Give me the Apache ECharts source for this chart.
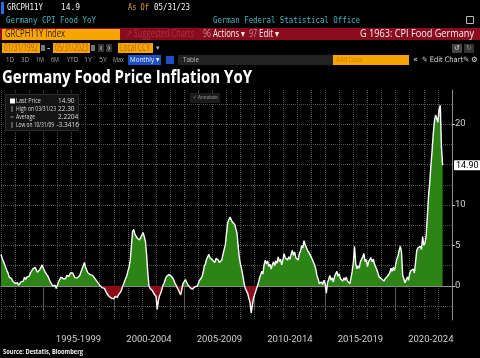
<!DOCTYPE html>
<html><head><meta charset="utf-8">
<script src="https://cdn.jsdelivr.net/npm/echarts@6/dist/echarts.min.js"></script>
<style>html,body{margin:0;padding:0;background:#000}#c{width:480px;height:358px}</style>
</head><body><div id="c"></div>
<script>
// ---- Data: Germany CPI Food YoY (%), monthly from 1992-01 ----
const startYear = 1992;
const endCategory = '2024-01';
const v1992 = [3.9, 3.4, 3.3, 2.7, 2.6, 1.9, 1.6, 1.1, 1.3, 0.9, 0.6, 0.4];
const v1993 = [0.3, 0.2, 0.4, 0.1, 0.3, 0.5, 0.7, 0.6, 1.1, 0.8, 1.1, 1.3];
const v1994 = [1.2, 1.6, 1.5, 2.1, 1.9, 2.3, 2.0, 1.7, 1.6, 2.0, 2.2, 2.6];
const v1995 = [2.2, 2.1, 1.6, 1.6, 1.2, 1.0, 0.5, 0.4, 0.0, -0.2, 0.1, -0.3];
const v1996 = [0.1, 0.5, 0.6, 1.1, 1.2, 0.9, 1.1, 0.9, 1.3, 1.5, 1.2, 1.6];
const v1997 = [1.8, 1.6, 1.5, 1.0, 0.8, 1.0, 1.1, 1.3, 1.5, 2.1, 2.3, 2.9];
const v1998 = [2.3, 2.1, 1.6, 1.7, 1.4, 1.6, 1.3, 1.3, 0.9, 0.9, 0.5, 0.4];
const v1999 = [0.1, 0.1, -0.2, -0.1, -0.3, -0.4, -0.9, -1.0, -1.3, -1.2, -1.5, -1.4];
const v2000 = [-1.6, -1.3, -1.5, -1.4, -1.1, -1.2, -0.7, -0.5, 0.1, 0.3, 0.9, 1.2];
const v2001 = [1.8, 2.3, 3.1, 4.9, 6.7, 7.0, 6.4, 6.4, 5.9, 6.0, 5.7, 6.0];
const v2002 = [6.3, 6.6, 6.7, 5.5, 3.8, 1.6, 0.0, -0.3, -0.5, -0.6, -0.9, -1.1];
const v2003 = [-1.3, -2.9, -1.8, -1.2, -0.9, -0.4, 0.1, 0.4, 0.9, 1.2, 1.3, 1.4];
const v2004 = [1.5, 1.2, 1.0, 0.8, 0.4, 0.1, -0.2, -0.5, -0.8, -1.1, -0.4, 0.3];
const v2005 = [0.5, 0.8, 0.5, 0.2, 0.0, -0.2, -0.3, -0.4, -0.2, -0.1, 0.0, 0.0];
const v2006 = [0.3, 0.7, 0.6, 1.1, 1.6, 2.4, 2.7, 3.3, 3.4, 3.9, 3.5, 3.4];
const v2007 = [3.2, 3.4, 2.9, 3.4, 3.3, 3.2, 2.9, 3.1, 3.2, 3.9, 4.1, 5.1];
const v2008 = [6.5, 7.8, 8.2, 8.5, 8.3, 7.9, 7.9, 7.6, 7.5, 6.5, 4.8, 3.4];
const v2009 = [2.6, 2.0, 1.2, 0.3, -0.3, -0.6, -0.9, -1.5, -2.0, -3.3416, -2.4, -1.5];
const v2010 = [-1.3, -0.6, -0.4, 0.3, 0.9, 1.0, 1.8, 1.5, 2.6, 3.2, 2.7, 3.1];
const v2011 = [2.4, 2.7, 2.1, 2.6, 3.0, 2.5, 3.1, 2.8, 3.6, 3.0, 3.3, 2.6];
const v2012 = [3.2, 4.0, 3.5, 3.7, 3.2, 3.6, 3.3, 3.9, 4.4, 3.8, 4.2, 3.5];
const v2013 = [3.7, 3.2, 4.0, 4.3, 5.0, 4.7, 5.6, 5.1, 5.3, 4.4, 4.6, 3.9];
const v2014 = [3.8, 3.3, 3.1, 2.6, 2.1, 1.3, 0.9, 0.3, 0.1, 0.5, 0.2, 0.7];
const v2015 = [0.3, -0.9, 0.4, 0.8, 1.3, 0.7, 1.0, 0.5, 1.2, 1.5, 1.8, 1.2];
const v2016 = [1.5, 0.9, 1.0, 0.6, 1.0, 0.7, 1.1, 0.6, 0.8, 0.3, 1.0, 1.8];
const v2017 = [2.9, 4.9, 2.8, 2.1, 2.5, 2.2, 3.0, 2.9, 3.6, 4.0, 3.0, 3.3];
const v2018 = [2.4, 3.0, 3.2, 3.5, 3.0, 3.3, 2.7, 2.6, 2.0, 1.8, 1.1, 1.3];
const v2019 = [0.9, 1.1, 0.6, 0.9, 0.7, 1.2, 1.0, 1.6, 2.2, 1.8, 2.3, 1.9];
const v2020 = [2.6, 3.3, 3.7, 4.4, 4.9, 4.2, 1.3, 0.9, 0.4, 0.6, 1.1, 0.7];
const v2021 = [1.6, 1.9, 1.7, 2.1, 1.6, 1.8, 4.4, 4.7, 4.5, 4.9, 4.5, 6.1];
const v2022 = [5.0, 5.3, 6.2, 8.6, 11.1, 12.7, 14.8, 16.6, 18.7, 20.3, 21.1, 20.7];
const v2023 = [20.2, 21.8, 22.3, 17.2, 14.9];
const yLabelValues = [0, 5, 10, 20];
const yGridValues = [-2.5, 0, 2.5, 5, 7.5, 10, 12.5, 15, 17.5, 20, 22.5];
const lastPrice = '14.90';
const legendRows = [
  ['Last Price', '14.90'],
  ['High on 03/31/23', '22.30'],
  ['Average', '2.2204'],
  ['Low on 10/31/09', '-3.3416']
];

const values = [].concat(v1992, v1993, v1994, v1995, v1996, v1997, v1998, v1999, v2000,
  v2001, v2002, v2003, v2004, v2005, v2006, v2007, v2008, v2009, v2010, v2011, v2012,
  v2013, v2014, v2015, v2016, v2017, v2018, v2019, v2020, v2021, v2022, v2023);
const positive = values.map(v => Math.max(v, 0));
const negative = values.map(v => Math.min(v, 0));

const cats = [];
for (let i = 0; ; i++) {
  const y = startYear + Math.floor(i / 12), m = i % 12 + 1;
  const s = y + '-' + String(m).padStart(2, '0');
  cats.push(s);
  if (s === endCategory) break;
}

// ---- helpers for header text ----
const mctx = document.createElement('canvas').getContext('2d');
function fit(text, font, w) { mctx.font = font; return w / mctx.measureText(text).width; }
function T(x, y, text, fill, font, w, align) {
  const el = { type: 'text', x: x, y: y, silent: true, z: 10,
    style: { text: text, fill: fill, font: font, textAlign: align || 'left', textVerticalAlign: 'middle',
             align: align || 'left', verticalAlign: 'middle' } };
  if (w) el.scaleX = fit(text, font, w);
  return el;
}
function R(x, y, w, h, fill, stroke) {
  return { type: 'rect', silent: true, z: 5, shape: { x: x, y: y, width: w, height: h },
    style: { fill: fill, stroke: stroke || null, lineWidth: stroke ? 1 : 0 } };
}

const MONO = '9.5px "DejaVu Sans Mono"';
const SANS = '10px "Open Sans"';
const SMALL = '6.5px "Open Sans"';
const teal = '#3fb9c6', orange = '#f7a600', white = '#f2f2f2';

const g = [];
// row 1
g.push(R(1, 2, 3, 12, '#2a6fdb'));
g.push(T(7, 8, 'GRCPH11Y', white, MONO, 36));
g.push(T(61, 8, '14.9', white, MONO, 19));
g.push(T(128, 8, 'As Of', '#e8a33d', MONO, 21));
g.push(T(154, 8, '05/31/23', white, MONO, 36));
// row 2
g.push(T(6, 21, 'Germany CPI Food YoY', teal, MONO, 90));
g.push(T(213, 21, 'German Federal Statistical Office', teal, MONO, 147));
g.push(R(466.5, 16.5, 7, 7, null, '#bbb'));
// row 3 red bar
g.push(R(0, 28, 480, 12, '#8a0b1d'));
g.push(R(2, 29, 118, 11, orange));
g.push(T(5, 34.5, 'GRCPH11Y Index', '#3a2000', SANS, 60));
g.push(T(126, 34.5, '↗ Suggested Charts', '#ad3044', SANS, 68));
g.push(T(203, 34.5, '96', '#d08a95', SANS, 8));
g.push(T(213, 34.5, 'Actions ▾', white, SANS, 32));
g.push(T(249, 34.5, '97', '#d08a95', SANS, 8));
g.push(T(259, 34.5, 'Edit ▾', white, SANS, 20));
g.push(T(474, 34.5, 'G 1963: CPI Food Germany', white, SANS, 114, 'right'));
// row 4
g.push(R(2, 43, 38, 10, orange));
g.push(T(4, 48, '01/31/1992', '#b86500', SANS, 34));
g.push(R(41, 45, 4, 6, '#777'));
g.push(T(47, 48, '-', white, SANS));
g.push(R(53, 43, 37, 10, orange));
g.push(T(55, 48, '05/31/2023', '#b86500', SANS, 33));
g.push(R(91, 45, 4, 6, '#777'));
g.push(R(98, 44, 6, 8, '#333'));
g.push(T(99.5, 48, '‹', '#ccc', SANS));
g.push(R(106, 44, 6, 8, '#333'));
g.push(T(107.5, 48, '›', '#ccc', SANS));
g.push(R(118, 43, 35, 10, orange));
g.push(T(120, 48, 'Local CCY', '#b86500', SANS, 30));
g.push(T(156, 48, '▾', '#bbb', '7px "DejaVu Sans"'));
g.push(R(452, 44, 10, 9, '#444'));
g.push(T(457, 48.5, '↺', '#ddd', '7px "DejaVu Sans"', null, 'center'));
g.push(R(464, 44, 10, 9, '#333'));
g.push(T(469, 48.5, '↻', '#999', '7px "DejaVu Sans"', null, 'center'));
// row 5
const ranges = [['1D', 6], ['3D', 21], ['1M', 36], ['6M', 51], ['YTD', 67], ['1Y', 84], ['5Y', 99], ['Max', 113]];
ranges.forEach(r => g.push(T(r[1], 60, r[0], '#a8a8a8', '7.5px "Open Sans"', r[0].length > 2 ? 11 : 8)));
g.push(R(128, 55, 33, 10, '#1d4fc4'));
g.push(T(130, 60, 'Monthly ▾', white, '7.5px "Open Sans"', 29));
g.push(R(166, 56, 8, 8, '#1d4fc4'));
g.push(R(178, 55, 155, 10, '#232323'));
g.push(T(183, 60, 'Table', '#bbb', '7.5px "Open Sans"', 16));
g.push(R(333, 55, 76, 10, orange));
g.push(T(336, 60, 'Add Data', '#cf7d00', '7.5px "Open Sans"', 26));
g.push(T(413, 60, '«', '#ddd', '8px "DejaVu Sans"'));
g.push(T(422, 60, '✎ Edit Chart', '#ddd', '7.5px "DejaVu Sans"', 41));
g.push(T(463, 60, '✎', '#ddd', '7.5px "DejaVu Sans"'));
g.push(T(471, 60, '⚙', '#ddd', '7.5px "DejaVu Sans"'));
// title
g.push(T(2, 78, 'Germany Food Price Inflation YoY', '#ffffff', 'bold 17px "Open Sans"', 250));
// legend box
g.push(R(5.5, 94.5, 73, 36, '#141414', '#2c2c2c'));
g.push(R(10, 98.5, 5, 5, '#ffffff'));
g.push(R(11.5, 106, 1, 6, '#999'));
g.push(R(10.5, 116.5, 3, 1, '#999'));
g.push(R(11.5, 122, 1, 6, '#999'));
const legendW = [25, 40, 19, 38];
legendRows.forEach((r, i) => {
  const yy = 101 + i * 8;
  g.push(T(16, yy, r[0], '#dcdcdc', SMALL, legendW[i]));
  g.push(T(r[1].charAt(0) === '-' ? 56.5 : 58, yy, r[1], '#dcdcdc', SMALL, null));
});
// annotate button
g.push(R(190, 93, 30, 10, '#1b1b1b'));
g.push(T(193, 98, '✓ Annotate', '#9a9a9a', '5.5px "DejaVu Sans"', 25));
// source
g.push(T(3, 352, 'Source: Destatis, Bloomberg', '#f0f0f0', 'bold 7px "Open Sans"', 80));

const gridLine = { color: '#505050', type: 'dotted', width: 1 };
const chart = echarts.init(document.getElementById('c'), null, { renderer: 'canvas' });
chart.setOption({
  backgroundColor: '#000',
  animation: false,
  grid: { left: 1, right: 28, top: 90, bottom: 38, containLabel: false },
  xAxis: {
    type: 'category', data: cats, boundaryGap: false,
    axisLine: { show: true, lineStyle: { color: '#8a8a8a', width: 1 } },
    axisTick: {
      show: true, length: 25, lineStyle: { color: '#5a5a5a' },
      interval: (i, v) => v.slice(5) === '01' && (+v.slice(0, 4)) % 5 === 0
    },
    axisLabel: {
      color: '#cfcfcf', fontFamily: 'Roboto', fontSize: 9.5, margin: 15,
      interval: (i, v) => v.slice(5) === '07' && (+v.slice(0, 4)) % 5 === 2 && (+v.slice(0, 4)) > 1995,
      formatter: v => { const s = +v.slice(0, 4) - 2; return s + '-' + (s + 4); }
    },
    splitLine: {
      show: true, interval: (i, v) => v.slice(5) === '01',
      lineStyle: gridLine
    }
  },
  yAxis: [{
    type: 'value', position: 'right', min: -4.2, max: 24.2,
    axisLine: { show: true, lineStyle: { color: '#8a8a8a' } },
    axisTick: { show: true, length: 3, customValues: yLabelValues, lineStyle: { color: '#bbb' } },
    axisLabel: { customValues: yLabelValues, color: '#cfcfcf', fontFamily: 'Roboto', fontSize: 9.5, margin: 3 },
    splitLine: { show: false }
  }, {
    type: 'value', position: 'right', min: -4.2, max: 24.2,
    axisLine: { show: false }, axisLabel: { show: false },
    axisTick: { show: false, customValues: yGridValues },
    splitLine: { show: true, lineStyle: gridLine }
  }],
  series: [{
    type: 'line', data: positive, yAxisIndex: 0, showSymbol: false, silent: true,
    lineStyle: { width: 0 }, itemStyle: { color: '#2b8414' },
    areaStyle: { opacity: 1, origin: 0, color: '#2b8414' }, z: 2
  }, {
    type: 'line', data: negative, yAxisIndex: 0, showSymbol: false, silent: true,
    lineStyle: { width: 0 }, itemStyle: { color: '#8c0c18' },
    areaStyle: { opacity: 1, origin: 0, color: '#8c0c18' }, z: 2
  }, {
    type: 'line', data: values, yAxisIndex: 0, showSymbol: false, silent: true,
    lineStyle: { color: '#ffffff', width: 1.4 }, itemStyle: { color: '#ffffff' }, z: 3,
    markLine: {
      silent: true, symbol: 'none', animation: false,
      lineStyle: { color: 'rgba(0,0,0,0)', width: 1, type: 'solid' },
      data: [{ yAxis: 14.9 }],
      label: {
        show: true, position: 'end', distance: 2, formatter: lastPrice,
        backgroundColor: '#ffffff', color: '#000', fontSize: 9, fontFamily: 'Roboto',
        padding: [1, 2, 0, 2], borderRadius: 1
      }
    }
  }],
  graphic: { elements: g }
});
</script>
</body></html>
